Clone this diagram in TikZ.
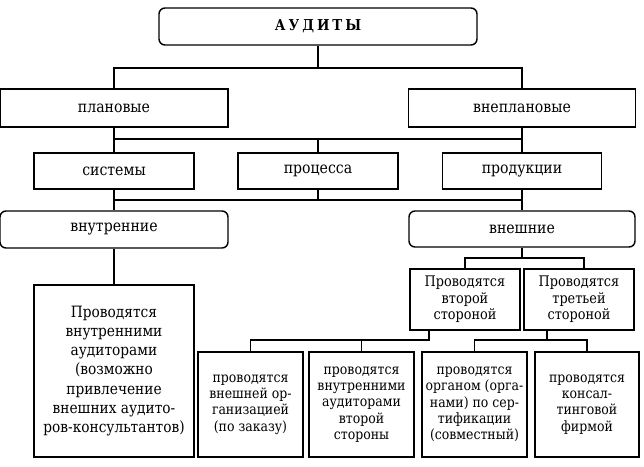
\documentclass[tikz,border=0pt]{standalone}
\usepackage{fontspec}
\setmainfont{DejaVu Serif}[FakeStretch=0.88]
\usetikzlibrary{calc}
\begin{document}
\begin{tikzpicture}[x=1pt,y=-1pt,
  box/.style={draw,line width=1.4pt,inner sep=1pt,align=center,font=\fontsize{16}{19}\selectfont},
  rbox/.style={box,rounded corners=6pt},
  small/.style={box,font=\fontsize{14.2}{16.2}\selectfont},
  mid/.style={box,font=\fontsize{14.6}{16.5}\selectfont},
  conn/.style={line width=1.4pt}]
\useasboundingbox (0,0) rectangle (644,466);
% level 0
\node[rbox,minimum width=318pt,minimum height=37pt,font=\bfseries\fontsize{15}{18}\selectfont] (top) at (318,26.5) {А\hspace{3pt}У\hspace{3pt}Д\hspace{3pt}И\hspace{3pt}Т\hspace{3pt}Ы};
% level 1
\node[box,minimum width=228pt,minimum height=38pt] (plan) at (114,108) {плановые};
\node[box,minimum width=227pt,minimum height=38pt] (unplan) at (522,108) {внеплановые};
% level 2
\node[box,minimum width=160pt,minimum height=36pt] (sys) at (114,171) {системы};
\node[box,minimum width=160pt,minimum height=36pt] (proc) at (318,171) {процесса};
\node[box,minimum width=159pt,minimum height=36pt] (prod) at (522,171) {продукции};
% level 3
\node[rbox,minimum width=228pt,minimum height=37pt] (int) at (114,229.5) {внутренние};
\node[rbox,minimum width=226pt,minimum height=36pt] (ext) at (522,229) {внешние};
% internal
\node[box,minimum width=160pt,minimum height=172pt,font=\fontsize{15.6}{19.3}\selectfont] (big) at (114,371)
  {Проводятся\\внутренними\\аудиторами\\(возможно\\привлечение\\внешних аудито-\\ров-консультантов)};
% external
\node[mid,minimum width=110pt,minimum height=61pt] (second) at (465,299.5) {Проводятся\\второй\\стороной};
\node[mid,minimum width=110pt,minimum height=61pt] (third) at (579,299.5) {Проводятся\\третьей\\стороной};
\node[small,minimum width=105pt,minimum height=105pt] (b1) at (250.5,404.5) {проводятся\\внешней ор-\\ганизацией\\(по заказу)};
\node[small,minimum width=105pt,minimum height=105pt] (b2) at (361.5,404.5) {проводятся\\внутренними\\аудиторами\\второй\\стороны};
\node[small,minimum width=105pt,minimum height=105pt] (b3) at (474.5,404.5) {проводятся\\органом (орга-\\нами) по сер-\\тификации\\(совместный)};
\node[small,minimum width=104pt,minimum height=105pt] (b4) at (587,404.5) {проводятся\\консал-\\тинговой\\фирмой};
% connectors
\coordinate (h1) at (318,68);
\coordinate (h2) at (318,139);
\coordinate (h3) at (318,200);
\coordinate (h4) at (522,258);
\coordinate (h5) at (429,340);
\coordinate (h6) at (547,340);
\draw[conn] (top.south) -- (h1);
\draw[conn] (plan.north) |- (h1) -| (unplan.north);
\draw[conn] (plan.south) -- (sys.north);
\draw[conn] (unplan.south) -- (prod.north);
\draw[conn] (plan.south |- h2) -- (unplan.south |- h2);
\draw[conn] (h2) -- (proc.north);
\draw[conn] (sys.south) -- (int.north);
\draw[conn] (prod.south) -- (ext.north);
\draw[conn] (sys.south |- h3) -- (prod.south |- h3);
\draw[conn] (proc.south) -- (h3);
\draw[conn] (int.south) -- (big.north);
\draw[conn] (ext.south) -- (h4);
\draw[conn] (second.north) |- (h4) -| (third.north -| 584,0);
\draw[conn] (second.south -| h5) -- (h5) -| (b1.north);
\draw[conn] (b2.north) -- (b2.north |- h5);
\draw[conn] (third.south -| h6) -- (h6);
\draw[conn] (b3.north) |- (h6) -| (b4.north);
\end{tikzpicture}
\end{document}
